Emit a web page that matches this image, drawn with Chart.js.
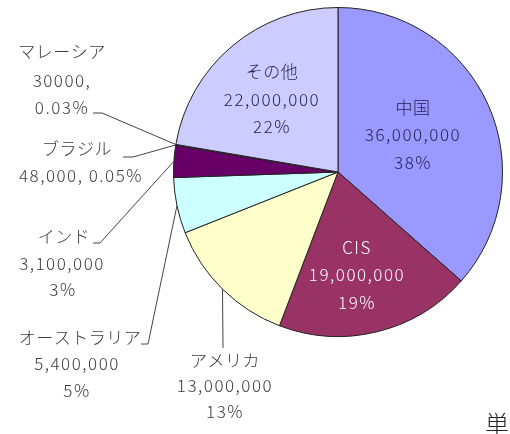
<!DOCTYPE html>
<html>
<head>
<meta charset="utf-8">
<script src="https://cdn.jsdelivr.net/npm/chart.js@4"></script>
<style>
  html, body { margin: 0; padding: 0; background: #fff; }
  canvas { display: block; }
</style>
</head>
<body>
<canvas id="pie" width="510" height="434"></canvas>
<script>
// 生産量 (トン)
const countries = ['中国', 'CIS', 'アメリカ', 'オーストラリア', 'インド', 'ブラジル', 'マレーシア', 'その他'];
const amounts = [36000000, 19000000, 13000000, 5400000, 3100000, 48000, 30000, 22000000];
const shares = ['38%', '19%', '13%', '5%', '3%', '0.05%', '0.03%', '22%'];
const fills = ['#9999FF', '#993366', '#FFFFCC', '#CCFFFF', '#660066', '#FF8080', '#0066CC', '#CCCCFF'];

const fmt = v => v.toLocaleString('en-US');

// label placement per slice: inside labels have no leader, outside ones have a tick + line to the rim
const labelLayout = [
  { color: '#222255', lines: i => [countries[i], fmt(amounts[i]), shares[i]], x: [413, 413, 413], y: [108, 135, 163] },
  { color: '#ffffff', lines: i => [countries[i], fmt(amounts[i]), shares[i]], x: [357, 357, 357], y: [248, 275, 303] },
  { lines: i => [countries[i], fmt(amounts[i]), shares[i]], x: [225, 225, 225], y: [361, 386, 412], leader: [[223, 348]] },
  { lines: i => [countries[i], fmt(amounts[i]), shares[i]], x: [80, 77, 77], y: [338, 364, 391], leader: [[141, 344], [148, 344]] },
  { lines: i => [countries[i], fmt(amounts[i]), shares[i]], x: [64, 62, 63], y: [237, 264, 290], leader: [[93, 243], [100, 243]] },
  { lines: i => [countries[i], fmt(amounts[i]) + ', ' + shares[i]], x: [77, 81], y: [149, 176], leader: [[123, 157], [133, 157]] },
  { lines: i => [countries[i], String(amounts[i]) + ',', shares[i]], x: [62, 62, 62], y: [52, 81, 108], leader: [[93, 113], [102, 113]] },
  { color: '#222255', lines: i => [countries[i], fmt(amounts[i]), shares[i]], x: [272, 272, 272], y: [72, 100, 127] }
];

const sliceLabels = {
  id: 'sliceLabels',
  afterDatasetsDraw(chart) {
    const ctx = chart.ctx;
    const meta = chart.getDatasetMeta(0);
    ctx.save();
    ctx.font = '300 17px "Noto Sans CJK JP", sans-serif';
    ctx.textAlign = 'center';
    ctx.textBaseline = 'middle';
    meta.data.forEach((arc, i) => {
      const L = labelLayout[i];
      const p = arc.getProps(['x', 'y', 'startAngle', 'endAngle', 'outerRadius'], true);
      if (L.leader) {
        const mid = (p.startAngle + p.endAngle) / 2;
        const ex = p.x + Math.cos(mid) * p.outerRadius;
        const ey = p.y + Math.sin(mid) * p.outerRadius;
        ctx.strokeStyle = '#444';
        ctx.lineWidth = 1;
        ctx.beginPath();
        ctx.moveTo(L.leader[0][0], L.leader[0][1]);
        for (let k = 1; k < L.leader.length; k++) ctx.lineTo(L.leader[k][0], L.leader[k][1]);
        ctx.lineTo(ex, ey);
        ctx.stroke();
      }
      ctx.fillStyle = L.color || '#3a3a3a';
      L.lines(i).forEach((t, k) => {
        // kana lines get tighter tracking than the digit lines
        ctx.letterSpacing = /[^\x00-\x7f]/.test(t) ? '0.5px' : '1.5px';
        ctx.fillText(t, L.x[k], L.y[k]);
      });
    });
    // unit note in the corner (runs off the canvas edge)
    ctx.textAlign = 'left';
    ctx.textBaseline = 'top';
    ctx.letterSpacing = '0px';
    ctx.fillStyle = '#222';
    ctx.font = '300 24px "Noto Sans CJK JP", sans-serif';
    ctx.fillText('単位：トン', 485, 412);
    ctx.restore();
  }
};

new Chart(document.getElementById('pie'), {
  type: 'pie',
  data: {
    labels: countries,
    datasets: [{
      data: amounts,
      backgroundColor: fills,
      borderColor: '#222',
      borderWidth: 1
    }]
  },
  options: {
    responsive: false,
    animation: false,
    layout: { padding: { left: 173, right: 7, top: 7, bottom: 97 } },
    plugins: {
      legend: { display: false },
      tooltip: { enabled: false }
    }
  },
  plugins: [sliceLabels]
});
</script>
</body>
</html>
